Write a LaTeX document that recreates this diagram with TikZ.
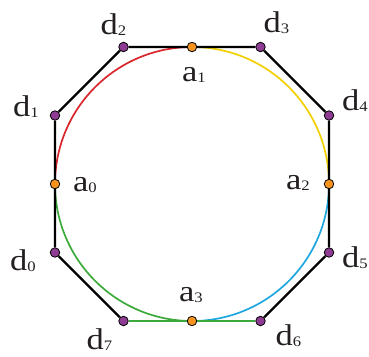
\documentclass[tikz,border=0pt]{standalone}
\usepackage{fontspec}
\setmainfont{Liberation Serif}
\usetikzlibrary{positioning,backgrounds}
\definecolor{vpurple}{HTML}{8E3C93}
\definecolor{vorange}{HTML}{F7941E}
\definecolor{qred}{HTML}{D8262C}
\definecolor{qyellow}{HTML}{F2D000}
\definecolor{qblue}{HTML}{1EA7DF}
\definecolor{qgreen}{HTML}{3CAA3A}
\definecolor{ink}{HTML}{231F20}
\newcommand{\idx}[1]{\raisebox{-1pt}{\fontsize{14.5}{14.5}\selectfont #1}}
\newcommand{\wide}[1]{\scalebox{1.15}[1]{#1}}
\tikzset{
  vtx/.style={circle,draw=black,fill=vpurple,line width=0.8pt,inner sep=0pt,minimum size=9.5pt},
  mid/.style={circle,draw=black,fill=vorange,line width=0.8pt,inner sep=0pt,minimum size=9.5pt},
  lbl/.style={font=\fontsize{30}{32}\selectfont, text=ink, inner sep=0pt},
  edge/.style={line width=2.3pt, black},
  quarter/.style={line width=1.7pt}
}
\begin{document}
\begin{tikzpicture}[x=1pt,y=1pt]
    \useasboundingbox (-192,-172) rectangle (177,184);

    % === Tangent points and corners ===
    \foreach \nm/\x/\y in {a0/-137/0, a1/0/137, a2/137/0, a3/0/-137} {
        \node[mid] (\nm) at (\x,\y) {};
    }
    \foreach \nm/\x/\y in {d0/-137/-68.5, d1/-137/68.5, d2/-68.5/137, d3/68.5/137,
                           d4/137/68.5, d5/137/-68.5, d6/68.5/-137, d7/-68.5/-137} {
        \node[vtx] (\nm) at (\x,\y) {};
    }

    % Octagon
    \draw[edge] (d1) -- (d2) -- (a1) -- (d3) -- (d4) -- (a2) -- (d5) -- (d6);
    \draw[edge] (d7) -- (d0) -- (a0) -- (d1);
    \draw[edge, qgreen] (d7) -- (a3) -- (d6);

    % Inscribed circle, one colour per quarter
    \begin{pgfonlayer}{background}
    \draw[quarter, qred] (a0.center) arc[start angle=180, end angle=90, radius=137pt];
    \draw[quarter, qyellow] (a1.center) arc[start angle=90, end angle=0, radius=137pt];
    \draw[quarter, qblue] (a2.center) arc[start angle=0, end angle=-90, radius=137pt];
    \draw[quarter, qgreen] (a3.center) arc[start angle=-90, end angle=-180, radius=137pt];
    \end{pgfonlayer}

    % Labels
    \foreach \ltr/\ix/\dx/\dy in {a/0/30/-1, a/1/2/-28, a/2/-31/1, a/3/-1/26,
                                 d/0/-32/-8, d/1/-29/9, d/2/-10/22, d/3/16/24,
                                 d/4/26/15, d/5/26/-5, d/6/28/-15, d/7/-24/-19} {
        \node[lbl] (lbl-\ltr\ix) at ([shift={(\dx,\dy)}]\ltr\ix) {\wide{\ltr\idx{\ix}}};
    }
\end{tikzpicture}
\end{document}
